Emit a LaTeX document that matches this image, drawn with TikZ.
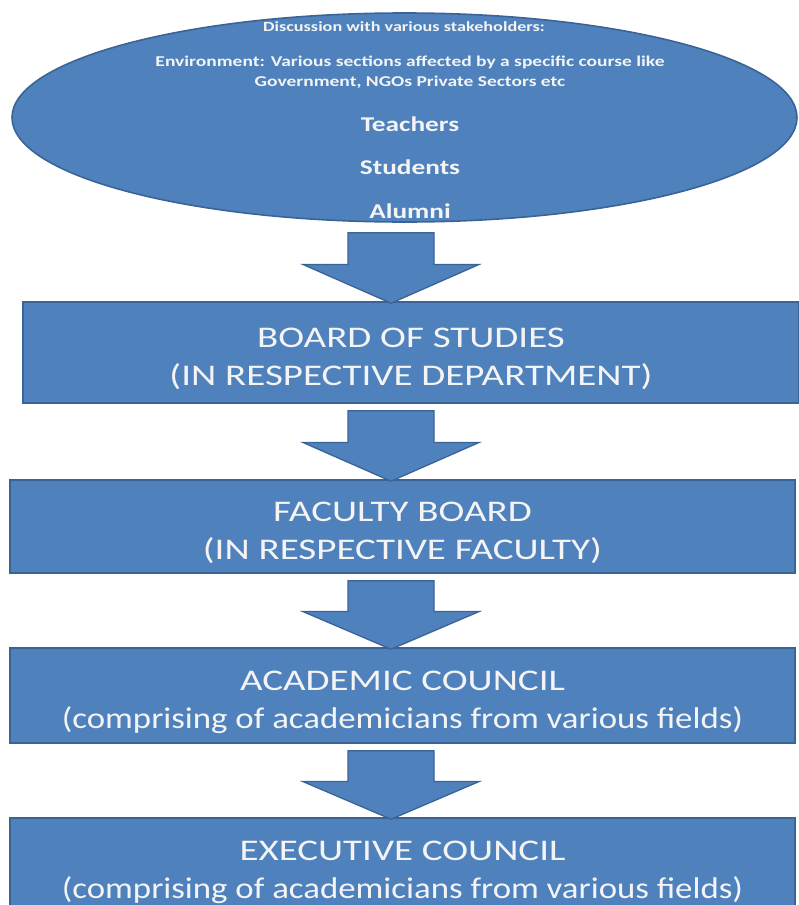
\documentclass[tikz,border=0pt]{standalone}
\usepackage{fontspec}
\setmainfont{Carlito}
\newfontfamily\widefont[FakeStretch=1.3]{Carlito}
\newfontfamily\smallwide[FakeStretch=1.16]{Carlito}
\usepackage{xcolor}
\usepackage{tikz}
\usetikzlibrary{calc,shapes.geometric,positioning}

\definecolor{ofblue}{HTML}{4F81BD}
\definecolor{ofedge}{HTML}{3A6496}
\definecolor{oftext}{HTML}{F4F4F4}

% two lines of a board, set a little below the middle
\newcommand{\boardtext}[2]{\raisebox{-6pt}[\height][\depth]{\begin{tabular}{@{}c@{}}#1\\#2\end{tabular}}}

\begin{document}
\begin{tikzpicture}[x=1pt,y=-1pt]

\tikzset{board/.style={rectangle, fill=ofblue, draw=ofedge, line width=1.6pt, inner sep=0pt,
  text=oftext, font=\widefont\fontsize{30}{38}\selectfont},
etext/.style={text=oftext, inner sep=0pt, align=center, font=\widefont\bfseries\fontsize{15}{19.5}\selectfont},
gtext/.style={text=oftext, inner sep=0pt, font=\widefont\bfseries\fontsize{21}{25}\selectfont},
blockarrow/.style={fill=ofblue, draw=ofedge, line width=1.3pt, line join=miter,
  to path={let \p1=(\tikztostart), \p2=(\tikztotarget), \p3=($(\tikztostart)!0.45!(\tikztotarget)$) in
  (\x1-43pt,\y1) -- (\x1+43pt,\y1) -- (\x1+43pt,\y3) -- (\x1+88pt,\y3) -- (\x1,\y2)
  -- (\x1-88pt,\y3) -- (\x1-43pt,\y3) -- cycle}}}

\useasboundingbox (0,0) rectangle (798,905);

%stakeholders
\node[ellipse, fill=ofblue, draw=ofedge, line width=1.6pt, minimum width=785pt, minimum height=209pt, inner sep=0pt] (ell) at (404.5,117.5) {};

\node[etext, font=\widefont\bfseries\fontsize{14}{17}\selectfont] (disc) at (404,27) {Discussion with various stakeholders:};
\node[etext] (env) at (410,72) {Environment: Various sections affected by a specific course like\\Government, NGOs Private Sectors etc};

\foreach \n/\y/\t in {teach/124/Teachers, stud/167/Students, alum/211/Alumni}
  \node[gtext] (\n) at (410,\y) {\t};

%the boards
\node[board, minimum width=776pt, minimum height=101pt] (bos) at (411,352.5) {\boardtext{BOARD OF STUDIES}{(IN RESPECTIVE DEPARTMENT)}};
\node[board, minimum width=785pt, minimum height=93pt] (fac) at (402.5,526.5) {\boardtext{FACULTY BOARD}{(IN RESPECTIVE FACULTY)}};
\node[board, minimum width=785pt, minimum height=95pt] (acad) at (402.5,695.5) {\boardtext{ACADEMIC COUNCIL}{\smallwide(comprising of academicians from various fields)}};
\node[board, minimum width=785pt, minimum height=95pt] (exec) at (402.5,865.5) {\boardtext{EXECUTIVE COUNCIL}{\smallwide(comprising of academicians from various fields)}};

%now the arrows
\coordinate (mid) at (391,0);

\foreach \a/\b/\g in {ell/bos/10, bos/fac/7, fac/acad/7, acad/exec/7}
  \draw[blockarrow] ([yshift=-\g pt]\a.south -| mid) to ([yshift=-2pt]\b.north -| mid);

\end{tikzpicture}
\end{document}
